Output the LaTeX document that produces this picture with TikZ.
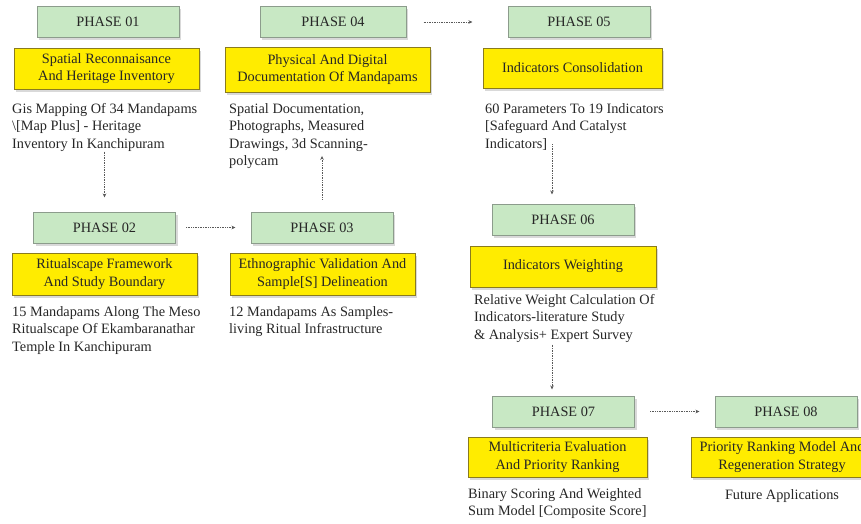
\documentclass[tikz,border=0pt]{standalone}
\usepackage{fontspec}
\setmainfont{Liberation Serif}
\usepackage{xcolor}
\usetikzlibrary{arrows.meta,shadows}

\definecolor{phasegreen}{HTML}{C8E8C4}
\definecolor{phaseline}{HTML}{8C9C8C}
\definecolor{taskyellow}{HTML}{FFEC00}
\definecolor{taskline}{HTML}{8A7B1E}

\newcommand{\bodyfont}{\fontsize{14.3}{17.5}\selectfont}

\tikzset{
  phase/.style={draw=phaseline, fill=phasegreen, line width=1pt,
    minimum width=142pt, minimum height=31pt, inner sep=0pt,
    drop shadow={shadow xshift=2pt, shadow yshift=-2.5pt, opacity=0.3},
    font=\bodyfont, text=black!85},
  task/.style={draw=taskline, fill=taskyellow, line width=1pt,
    inner sep=0pt, align=center,
    drop shadow={shadow xshift=2pt, shadow yshift=-2.5pt, opacity=0.3},
    font=\bodyfont, text=black!85},
  desc/.style={anchor=north west, inner sep=0pt, align=left,
    font=\bodyfont, text=black!85},
  flow/.style={densely dotted, line width=0.7pt, black!65,
    -{Stealth[length=4pt,width=3.5pt]}}
}

\begin{document}
\begin{tikzpicture}[x=1pt, y=-1pt]

    \useasboundingbox (0,0) rectangle (861,523);

    % phase 01
    \node[phase] (p1) at (108,21.5) {PHASE 01};
    \node[task, minimum width=185pt, minimum height=41pt] (t1) at (106.5,68.5)
        {Spatial Reconnaisance\\And Heritage Inventory};
    \node[desc] (d1) at (12,103)
        {Gis Mapping Of 34 Mandapams\\\textbackslash[Map Plus] - Heritage\\Inventory In Kanchipuram};

    % phase 02
    \node[phase] (p2) at (104.5,227.5) {PHASE 02};
    \node[task, minimum width=185pt, minimum height=42pt] (t2) at (104.5,274)
        {Ritualscape Framework\\And Study Boundary};
    \node[desc] (d2) at (12,306)
        {15 Mandapams Along The Meso\\Ritualscape Of Ekambaranathar\\Temple In Kanchipuram};

    % phase 03
    \node[phase] (p3) at (322,227.5) {PHASE 03};
    \node[task, minimum width=185pt, minimum height=42pt] (t3) at (322.5,274)
        {Ethnographic Validation And\\Sample[S] Delineation};
    \node[desc] (d3) at (229,306)
        {12 Mandapams As Samples-\\living Ritual Infrastructure};

    % phase 04
    \node[phase, minimum width=146pt] (p4) at (333,22) {PHASE 04};
    \node[task, minimum width=205pt, minimum height=45pt] (t4) at (327.5,69.5)
        {Physical And Digital\\Documentation Of Mandapams};
    \node[desc] (d4) at (229,103)
        {Spatial Documentation,\\Photographs, Measured\\Drawings, 3d Scanning-\\polycam};

    % phase 05
    \node[phase] (p5) at (579,22) {PHASE 05};
    \node[task, minimum width=179pt, minimum height=40pt] (t5) at (572.5,68)
        {Indicators Consolidation};
    \node[desc] (d5) at (485,103)
        {60 Parameters To 19 Indicators\\{[Safeguard And Catalyst}\\Indicators]};

    % phase 06
    \node[phase] (p6) at (563,219.5) {PHASE 06};
    \node[task, minimum width=186pt, minimum height=41pt] (t6) at (563,266.5)
        {Indicators Weighting};
    \node[desc] (d6) at (474,294)
        {Relative Weight Calculation Of\\Indicators-literature Study\\\& Analysis+ Expert Survey};

    % phase 07
    \node[phase] (p7) at (563.5,411.5) {PHASE 07};
    \node[task, minimum width=179pt, minimum height=40pt] (t7) at (557.5,457)
        {Multicriteria Evaluation\\And Priority Ranking};
    \node[desc] (d7) at (468,488)
        {Binary Scoring And Weighted\\Sum Model [Composite Score]};

    % phase 08
    \node[phase] (p8) at (786,411.5) {PHASE 08};
    \node[task, minimum width=182pt, minimum height=40pt] (t8) at (782,457)
        {Priority Ranking Model And\\Regeneration Strategy};
    \node[desc, anchor=north] (d8) at (782,489) {Future Applications};

    % flechas
    \draw[flow, shorten <=0pt, shorten >=14pt] (d1.south -| p2.north) -- (p2.north);
    \draw[flow, shorten <=10pt, shorten >=15pt] (p2.east) -- (p3.west);
    \draw[flow, shorten <=12pt, shorten >=-13pt] (p3.north) -- (d4.south -| p3.north);
    \draw[flow, shorten <=17pt, shorten >=35pt] (p4.east) -- (p5.west);
    \draw[flow, shorten <=-6pt, shorten >=9pt] ([xshift=-11pt]p6.north |- d5.south) -- ([xshift=-11pt]p6.north);
    \draw[flow, shorten <=2pt, shorten >=6pt] ([xshift=-11.5pt]p7.north |- d6.south) -- ([xshift=-11.5pt]p7.north);
    \draw[flow, shorten <=15pt, shorten >=15pt] (p7.east) -- (p8.west);

\end{tikzpicture}
\end{document}
